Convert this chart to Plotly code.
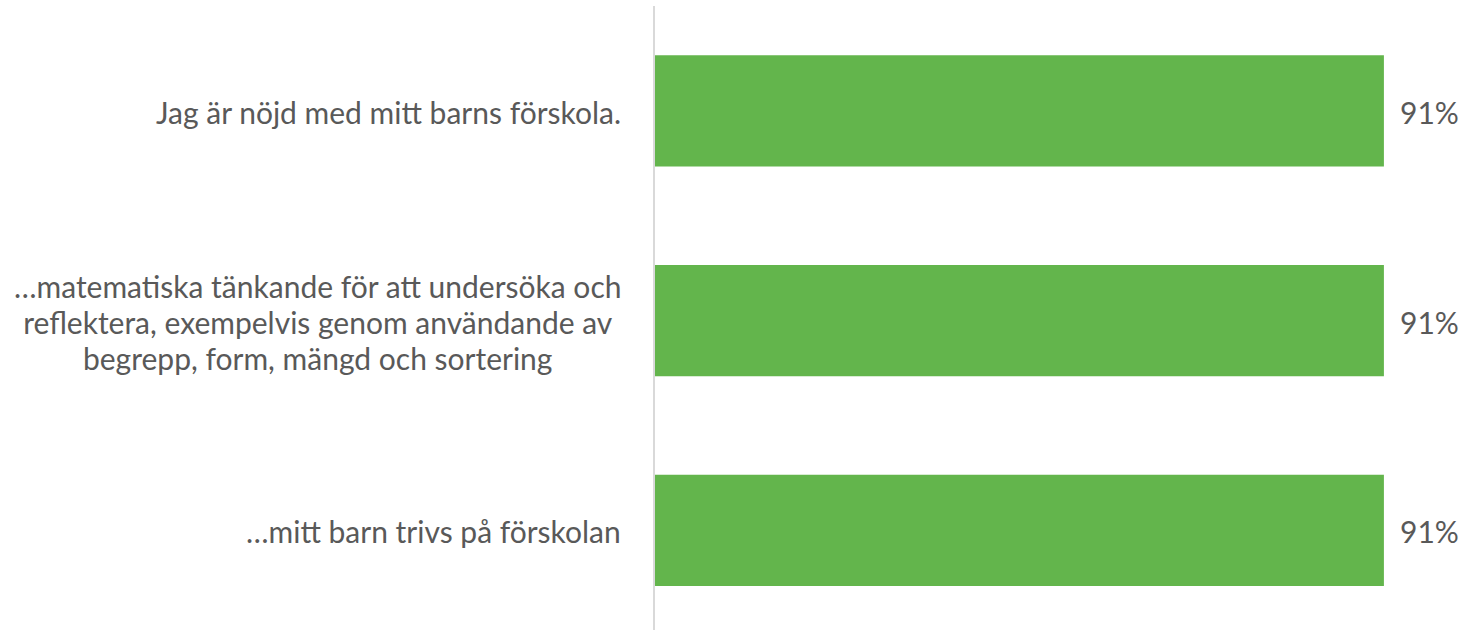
import plotly.graph_objects as go

categories = [
    "Jag är nöjd med mitt barns förskola.",
    "…matematiska tänkande för att undersöka och<br>reflektera, exempelvis genom användande av<br>begrepp, form, mängd och sortering",
    "…mitt barn trivs på förskolan",
]
values = [0.91, 0.91, 0.91]

BAR_COLOR = "#63b54c"
TEXT_COLOR = "#595959"
FONT = "Lato"
FSIZE = 30
LINE_H = 36  # reference line spacing; plotly spaces lines at 1.3em of the base size

fig = go.Figure()
fig.add_trace(go.Bar(
    x=values,
    y=list(range(len(categories))),
    orientation="h",
    marker=dict(color=BAR_COLOR, line=dict(width=0)),
    width=0.53,
    hoverinfo="skip",
))

annotations = []
for i, (c, v) in enumerate(zip(categories, values)):
    styled = "<br>".join(
        f"<span style='font-size:{FSIZE}px'>{ln}</span>" for ln in c.split("<br>")
    )
    annotations.append(dict(
        x=0, xref="paper", y=i, yref="y", text=styled, showarrow=False,
        xanchor="right", yanchor="middle", align="center", xshift=-32, yshift=-1,
        font=dict(family=FONT, size=LINE_H / 1.3, color=TEXT_COLOR),
    ))
    annotations.append(dict(
        x=v, xref="x", y=i, yref="y", text=f"{round(v*100)}%", showarrow=False,
        xanchor="left", yanchor="middle", xshift=14, yshift=-1,
        font=dict(family=FONT, size=FSIZE, color=TEXT_COLOR),
    ))

fig.update_layout(
    width=1460, height=630,
    margin=dict(l=655, r=4, t=6, b=0),
    paper_bgcolor="white", plot_bgcolor="white",
    showlegend=False,
    annotations=annotations,
    xaxis=dict(range=[0, 1], visible=False, fixedrange=True),
    yaxis=dict(range=[2.475, -0.5], showticklabels=False, showgrid=False,
               zeroline=False, showline=True, linecolor="#d9d9d9", linewidth=2,
               ticks=""),
)

fig.write_html("out.html", post_script="document.body.style.margin='0';",
               config={"displayModeBar": False})
